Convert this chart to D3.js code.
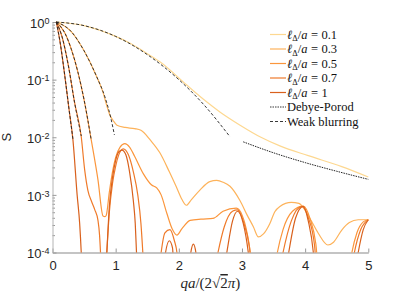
<!DOCTYPE html>
<html>
<head>
<meta charset="utf-8">
<script src="https://cdn.jsdelivr.net/npm/d3@7"></script>
<style>
  body { margin: 0; background: #fff; }
  svg { display: block; }
  .tick text { font-family: "Liberation Sans", Arial, sans-serif; font-size: 13px; fill: #262626; }
</style>
</head>
<body>
<div id="chart"></div>
<script>
// curves: [x, S]
const blur01 = [[0.06,1],[0.5,0.865],[1.0,0.562],[1.23,0.427],[1.5,0.282],[1.7,0.204],[2.12,0.0813],[2.4,0.0447],[2.65,0.0275],[2.97,0.0162],[3.3,0.0100],[3.6,0.00708],[4.05,0.00479],[4.58,0.00309],[5.0,0.00204]];
const blur03 = [[0.06,1],[0.3,0.676],[0.5,0.316],[0.7,0.112],[0.8,0.06],[0.86,0.035],[0.91,0.024],[0.96,0.0195],[1.02,0.0162],[1.15,0.0148],[1.3,0.0141],[1.4,0.0132],[1.55,0.0089],[1.70,0.00537],[1.85,0.00251],[1.96,0.00138],[2.05,0.00083],[2.12,0.00066],[2.2,0.00083],[2.33,0.0012],[2.49,0.0017],[2.60,0.00178],[2.70,0.00166],[2.81,0.00141],[2.97,0.00079],[3.08,0.00045],[3.18,0.00028],[3.26,0.000186],[3.34,0.00021],[3.44,0.000316],[3.52,0.00051],[3.6,0.00063],[3.78,0.00074],[3.9,0.00071],[4.0,0.00054],[4.1,0.00035],[4.21,0.000214],[4.36,0.000135],[4.45,0.000151],[4.58,0.000245],[4.7,0.00033],[4.84,0.00037],[5.0,0.00037]];
const blur05 = [[0.06,1],[0.2,0.63],[0.3,0.331],[0.4,0.138],[0.5,0.0447],[0.614,0.0089],[0.72,0.00182],[0.8,0.00043],[0.83,0.00042],[0.85,0.00044],[0.9,0.00112],[0.95,0.00251],[1.0,0.00447],[1.07,0.00676],[1.146,0.00776],[1.22,0.00676],[1.3,0.00468],[1.437,0.00234],[1.57,0.00148],[1.65,0.00132],[1.72,0.001],[1.81,0.00048],[1.9,0.00025],[1.97,0.0002],[2.05,0.00026],[2.18,0.00036],[2.35,0.00038],[2.54,0.00039],[2.7,0.00052],[2.91,0.00059],[3.0,0.00045],[3.08,0.00022],[3.13,0.0001],[3.16,0.00004],[3.5,0.00004],[3.56,0.0001],[3.65,0.00025],[3.8,0.00052],[3.97,0.00064],[4.08,0.00038],[4.17,0.00014],[4.22,0.00004],[4.68,0.00004],[4.74,0.0001],[4.82,0.00022],[4.92,0.00034],[5.0,0.00037]];
const blur07 = [[0.06,1],[0.15,0.56],[0.25,0.178],[0.35,0.0398],[0.456,0.01],[0.51,0.00269],[0.56,0.0012],[0.62,0.00076],[0.67,0.00055],[0.72,0.00036],[0.745,0.0002],[0.76,0.0001],[0.775,0.00004],[0.84,0.00004],[0.86,0.0001],[0.9,0.0005],[0.95,0.00158],[1.0,0.00316],[1.05,0.005],[1.12,0.0063],[1.2,0.005],[1.28,0.00251],[1.35,0.001],[1.4,0.00032],[1.43,0.0001],[1.45,0.00004],[1.68,0.00004],[1.72,0.0001],[1.78,0.00022],[1.86,0.00025],[1.93,0.00016],[1.97,0.0001],[2.0,0.00004],[2.55,0.00004],[2.62,0.0001],[2.72,0.00028],[2.85,0.00052],[2.93,0.00055],[3.02,0.00035],[3.12,0.00012],[3.17,0.00004],[3.58,0.00004],[3.65,0.0001],[3.78,0.00035],[3.95,0.00063],[4.05,0.0004],[4.15,0.00013],[4.19,0.00004],[4.72,0.00004],[4.78,0.0001],[4.88,0.00025],[5.0,0.00037]];
const blur10 = [[0.06,1],[0.12,0.447],[0.2,0.105],[0.26,0.0316],[0.324,0.0089],[0.39,0.001],[0.43,0.00032],[0.455,0.0001],[0.47,0.00004],[0.84,0.00004],[0.86,0.0001],[0.9,0.00063],[0.95,0.002],[1.0,0.00398],[1.05,0.0056],[1.1,0.006],[1.16,0.005],[1.22,0.00251],[1.28,0.00079],[1.31,0.00032],[1.33,0.0001],[1.35,0.00004],[1.75,0.00004],[1.79,0.0001],[1.85,0.00016],[1.9,0.00012],[1.93,0.00004],[2.15,0.00004],[2.19,0.0001],[2.23,0.00014],[2.27,0.0001],[2.3,0.00004],[2.7,0.00004],[2.76,0.0001],[2.85,0.00035],[2.93,0.00052],[3.02,0.00032],[3.1,0.0001],[3.14,0.00004],[3.68,0.00004],[3.74,0.0001],[3.85,0.0004],[3.97,0.00063],[4.05,0.00035],[4.13,0.0001],[4.16,0.00004],[4.78,0.00004],[4.84,0.0001],[4.92,0.00025],[5.0,0.00037]];

// approximations (black lines)
const weak01 = [[0.06,1],[0.5,0.865],[1.0,0.562],[1.5,0.272],[2.0,0.1],[2.4,0.0363],[2.81,0.0102]];
const weak03 = [[0.06,1],[0.3,0.676],[0.5,0.316],[0.7,0.112],[0.83,0.05],[0.92,0.0224],[0.98,0.011]];
const weak05 = [[0.06,1],[0.2,0.63],[0.3,0.331],[0.4,0.138],[0.5,0.0447],[0.614,0.0089]];
const weak07 = [[0.06,1],[0.15,0.56],[0.25,0.178],[0.35,0.0398],[0.456,0.0105]];
const weak10 = [[0.06,1],[0.12,0.447],[0.2,0.105],[0.26,0.0316],[0.324,0.0092]];
const porod01 = [[3.02,0.00832],[3.5,0.00537],[4.0,0.00363],[4.5,0.00257],[5.0,0.00186]];

const blurLabels = ["0.1", "0.3", "0.5", "0.7", "1"];
const blurColors = ["#fdd891", "#fdb35b", "#fb963c", "#ef7a2a", "#d9611d"];
const xTicks = [0, 1, 2, 3, 4, 5];
const yTicks = [1e-4, 1e-3, 1e-2, 1e-1, 1];

const W = 407, H = 292;
const svg = d3.select("#chart").append("svg").attr("width", W).attr("height", H);

const x = d3.scaleLinear().domain([0, 5]).range([52.5, 368.3]);
const y = d3.scaleLog().domain([1e-4, 1]).range([252.5, 22]);

svg.append("clipPath").attr("id", "plotclip")
  .append("rect").attr("x", x(0)).attr("y", 14).attr("width", x(5) - x(0) + 1).attr("height", y(1e-4) - 14);

// axes
const xAxis = svg.append("g").attr("transform", `translate(0,${y(1e-4)})`)
  .call(d3.axisBottom(x).tickValues(xTicks).tickSizeInner(-4).tickSizeOuter(0).tickPadding(8).tickFormat(d3.format("d")));
xAxis.select(".domain").attr("stroke", "#c4c4c4").attr("stroke-width", 2);
xAxis.selectAll(".tick line").attr("stroke", "#9a9a9a");

const minors = [];
for (let e = -4; e < 0; e++) for (let m = 2; m <= 9; m++) minors.push(m * Math.pow(10, e));
svg.append("g").attr("transform", `translate(${x(0)},0)`)
  .call(d3.axisLeft(y).tickValues(minors).tickSizeInner(-2.5).tickSizeOuter(0).tickFormat(""))
  .call(g => g.select(".domain").remove())
  .selectAll(".tick line").attr("stroke", "#9a9a9a");

const yAxis = svg.append("g").attr("transform", `translate(${x(0)},0)`)
  .call(d3.axisLeft(y).tickValues(yTicks).tickSizeInner(-4).tickSizeOuter(0).tickPadding(3).tickFormat(""));
yAxis.select(".domain").attr("stroke", "#b4b4b4");
yAxis.selectAll(".tick line").attr("stroke", "#9a9a9a");
yAxis.selectAll(".tick text").each(function (d) {
  const t = d3.select(this).attr("dy", "0.4em");
  t.append("tspan").text("10");
  t.append("tspan").attr("dy", "-0.45em").attr("font-size", "9px").text(Math.round(Math.log10(d)));
});

// axis titles
svg.append("text")
  .attr("transform", `translate(11,${y(1e-2)}) rotate(-90)`)
  .attr("text-anchor", "middle")
  .attr("font-family", "Liberation Sans, Arial, sans-serif").attr("font-size", 13).attr("fill", "#262626")
  .text("S");

const xl = svg.append("text")
  .attr("x", x(2.5)).attr("y", 288)
  .attr("text-anchor", "middle")
  .attr("font-family", "Liberation Serif, serif").attr("font-size", 15).attr("fill", "#262626");
xl.append("tspan").attr("font-style", "italic").text("qa");
xl.append("tspan").text("/(2√");
xl.append("tspan").attr("text-decoration", "overline").text("2");
xl.append("tspan").attr("font-style", "italic").text("π");
xl.append("tspan").text(")");

// curves
const line = d3.line().x(d => x(d[0])).y(d => y(d[1])).curve(d3.curveMonotoneX);
const plot = svg.append("g").attr("clip-path", "url(#plotclip)");

const curves = [blur01, blur03, blur05, blur07, blur10];
curves.forEach((c, i) => {
  plot.append("path").datum(c)
    .attr("fill", "none").attr("stroke", blurColors[i]).attr("stroke-width", 1.2)
    .attr("d", line);
});

[weak01, weak03, weak05, weak07, weak10].forEach(c => {
  plot.append("path").datum(c)
    .attr("fill", "none").attr("stroke", "#222").attr("stroke-width", 0.9)
    .attr("stroke-dasharray", "3,2")
    .attr("d", line);
});
plot.append("path").datum(porod01)
  .attr("fill", "none").attr("stroke", "#222").attr("stroke-width", 1)
  .attr("stroke-dasharray", "1.5,1")
  .attr("d", line);

// legend
const lg = svg.append("g").attr("font-family", "Liberation Serif, serif").attr("font-size", 12.5).attr("fill", "#111");
const rowY = i => 34.5 + i * 14.5;
blurLabels.forEach((lab, i) => {
  lg.append("line").attr("x1", 270).attr("x2", 286).attr("y1", rowY(i)).attr("y2", rowY(i))
    .attr("stroke", blurColors[i]).attr("stroke-width", 1.2);
  const t = lg.append("text").attr("x", 287).attr("y", rowY(i) + 4);
  t.append("tspan").attr("font-style", "italic").text("ℓ");
  t.append("tspan").attr("dy", 2.5).attr("font-size", "8.5px").text("Δ");
  t.append("tspan").attr("dy", -2.5).text("/");
  t.append("tspan").attr("font-style", "italic").text("a");
  t.append("tspan").attr("dx", 3.5).text("=");
  t.append("tspan").attr("dx", 3.5).text(lab);
});
[["Debye-Porod", "1.5,1"], ["Weak blurring", "3,2"]].forEach((e, j) => {
  const i = 5 + j;
  lg.append("line").attr("x1", 270).attr("x2", 286).attr("y1", rowY(i)).attr("y2", rowY(i))
    .attr("stroke", "#222").attr("stroke-width", 0.9).attr("stroke-dasharray", e[1]);
  lg.append("text").attr("x", 287).attr("y", rowY(i) + 4).text(e[0]);
});
</script>
</body>
</html>
